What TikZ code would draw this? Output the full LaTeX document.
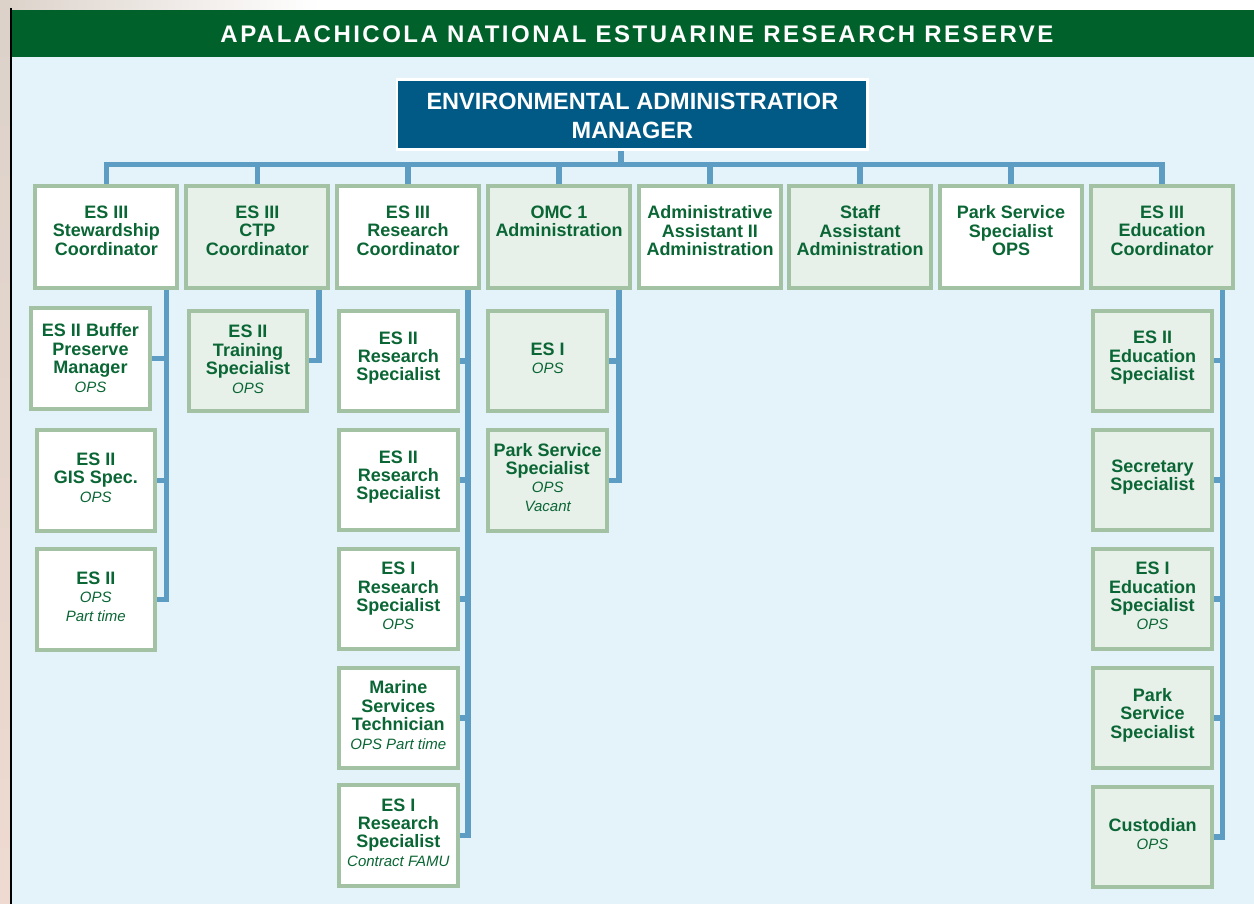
\documentclass[tikz,border=0pt]{standalone}
\usepackage{fontspec}
\setmainfont{Liberation Sans}
\newfontfamily\hdrfont{Liberation Sans}[LetterSpace=10.3]
\usetikzlibrary{calc,backgrounds}
\definecolor{hdrgreen}{HTML}{00622A}
\definecolor{mgrblue}{HTML}{005A85}
\definecolor{panelblue}{HTML}{E4F3F9}
\definecolor{connblue}{HTML}{5D9CC3}
\definecolor{boxline}{HTML}{A3C2A3}
\definecolor{boxfill}{HTML}{E8F0EA}
\definecolor{txtgreen}{HTML}{0A6634}
\definecolor{stripA}{HTML}{DCD2CA}
\definecolor{stripB}{HTML}{EEDAD0}
\newcommand{\subt}[1]{{\mdseries\itshape\fontsize{15}{18.4}\selectfont #1}}
\tikzset{
  conn/.style={draw=connblue, line width=5.3pt},
  topbox/.style={draw=boxline, line width=4pt, fill=white, minimum width=142pt, minimum height=102pt, inner sep=0pt},
  gtopbox/.style={topbox, fill=boxfill},
  boxtext/.style={inner sep=0pt, align=center, text=txtgreen, font=\bfseries\fontsize{18}{18.4}\selectfont},
  toptext/.style={boxtext, anchor=north},
  cbox/.style={draw=boxline, line width=4pt, fill=white, minimum width=118.5pt, minimum height=100.5pt, inner sep=0pt},
  gcbox/.style={cbox, fill=boxfill}
}
% child box: name, x, y, style, text shift, text
\newcommand{\cbx}[6]{\node[#4] (#1) at (#2,#3) {};
  \node[boxtext] (#1t) at ($(#1.center)+(0,#5)$) {#6};}
\begin{document}
\begin{tikzpicture}[x=1pt,y=-1pt]
\useasboundingbox (0,0) rectangle (1254,904);
% header and manager
\node[fill=hdrgreen, minimum width=1242.5pt, minimum height=47pt, inner sep=0pt, anchor=north west] (hdr) at (11.5,10) {};
\node[anchor=base, text=white, inner sep=0pt, font=\hdrfont\bfseries\fontsize{24}{28}\selectfont] (title) at (637,42.3) {APALACHICOLA NATIONAL ESTUARINE RESEARCH RESERVE};
\node[fill=mgrblue, draw=white, line width=2.6pt, minimum width=470.7pt, minimum height=70.2pt, inner sep=0pt] (mgr) at (632.4,114.4) {};
\node[inner sep=0pt, align=center, text=white, font=\bfseries\fontsize{23.5}{29}\selectfont] (mgrt) at ($(mgr.center)+(0,2)$) {ENVIRONMENTAL ADMINISTRATIOR\\MANAGER};
% top row
\node[topbox]  (b1) at (106.3,237) {};
\node[gtopbox] (b2) at (257.3,237) {};
\node[topbox]  (b3) at (408,237) {};
\node[gtopbox] (b4) at (559,237) {};
\node[topbox]  (b5) at (710,237) {};
\node[gtopbox] (b6) at (860,237) {};
\node[topbox]  (b7) at (1011,237) {};
\node[gtopbox] (b8) at (1162,237) {};
\node[toptext] (t1) at ($(b1.north)+(0,21.5)$) {ES III\\Stewardship\\Coordinator};
\node[toptext] (t2) at ($(b2.north)+(0,21.5)$) {ES III\\CTP\\Coordinator};
\node[toptext] (t3) at ($(b3.north)+(0,21.5)$) {ES III\\Research\\Coordinator};
\node[toptext] (t4) at ($(b4.north)+(0,21.5)$) {OMC 1\\Administration};
\node[toptext] (t5) at ($(b5.north)+(0,21.5)$) {Administrative\\Assistant II\\Administration};
\node[toptext] (t6) at ($(b6.north)+(0,21.5)$) {Staff\\Assistant\\Administration};
\node[toptext] (t7) at ($(b7.north)+(0,21.5)$) {Park Service\\Specialist\\OPS};
\node[toptext] (t8) at ($(b8.north)+(0,21.5)$) {ES III\\Education\\Coordinator};
% column 1
\cbx{c11}{90.5}{358.5}{cbox}{-0.5}{ES II Buffer\\Preserve\\Manager\\\subt{OPS}}
\cbx{c12}{95.8}{480.7}{cbox}{-3}{ES II\\GIS Spec.\\\subt{OPS}}
\cbx{c13}{95.8}{599.5}{cbox}{-3}{ES II\\\subt{OPS}\\\subt{Part time}}
% column 2
\cbx{c21}{248}{360.8}{gcbox}{-1.5}{ES II\\Training\\Specialist\\\subt{OPS}}
% column 3
\cbx{c31}{398.3}{361}{cbox}{-3}{ES II\\Research\\Specialist}
\cbx{c32}{398.3}{480}{cbox}{-3}{ES II\\Research\\Specialist}
\cbx{c33}{398.3}{599}{cbox}{-3}{ES I\\Research\\Specialist\\\subt{OPS}}
\cbx{c34}{398.3}{718}{cbox}{-3}{Marine\\Services\\Technician\\\subt{OPS Part time}}
\cbx{c35}{398.3}{835.5}{cbox}{-3}{ES I\\Research\\Specialist\\\subt{Contract FAMU}}
% column 4
\cbx{c41}{547.7}{361}{gcbox}{-3}{ES I\\\subt{OPS}}
\cbx{c42}{547.7}{480.3}{gcbox}{-3}{Park Service\\Specialist\\\subt{OPS}\\\subt{Vacant}}
% column 8
\cbx{c81}{1152.5}{360.8}{gcbox}{-3}{ES II\\Education\\Specialist}
\cbx{c82}{1152.5}{480}{gcbox}{-3}{Secretary\\Specialist}
\cbx{c83}{1152.5}{599}{gcbox}{-3}{ES I\\Education\\Specialist\\\subt{OPS}}
\cbx{c84}{1152.5}{718}{gcbox}{-3}{Park\\Service\\Specialist}
\cbx{c85}{1152.5}{837}{gcbox}{-3}{Custodian\\\subt{OPS}}
\coordinate (bus) at (621,164.5);
\coordinate (v1) at (166.3,0);
\coordinate (v2) at (319,0);
\coordinate (v3) at (468,0);
\coordinate (v4) at (619,0);
\coordinate (v8) at (1222.8,0);
\begin{pgfonlayer}{background}
  \fill[white] (0,0) rectangle (1254,904);
  \shade[left color=stripA, right color=white] (0,0) rectangle (320,10);
  \shade[top color=stripA, bottom color=stripB] (0,0) rectangle (11,904);
  \fill[panelblue] (11.5,57) rectangle (1254,904);
  \draw[black, line width=1.2pt] (11,8) -- (11,904);
  % connectors
  \draw[conn] (bus |- mgr.south) -- (bus);
  \draw[conn] (b1.north) |- (bus) -| (b8.north);
  \foreach \b in {b2,b3,b4,b5,b6,b7} { \draw[conn] (\b.north) -- (\b.north |- bus); }
  \draw[conn] (v1 |- b1.south) |- (c13.east);
  \draw[conn] (v1 |- c11.east) -- (c11.east);
  \draw[conn] (v1 |- c12.east) -- (c12.east);
  \draw[conn] (v2 |- b2.south) |- (c21.east);
  \draw[conn] (v3 |- b3.south) |- (c35.east);
  \foreach \c in {c31,c32,c33,c34} { \draw[conn] (v3 |- \c.east) -- (\c.east); }
  \draw[conn] (v4 |- b4.south) |- (c42.east);
  \draw[conn] (v4 |- c41.east) -- (c41.east);
  \draw[conn] (v8 |- b8.south) |- (c85.east);
  \foreach \c in {c81,c82,c83,c84} { \draw[conn] (v8 |- \c.east) -- (\c.east); }
\end{pgfonlayer}
\end{tikzpicture}
\end{document}
